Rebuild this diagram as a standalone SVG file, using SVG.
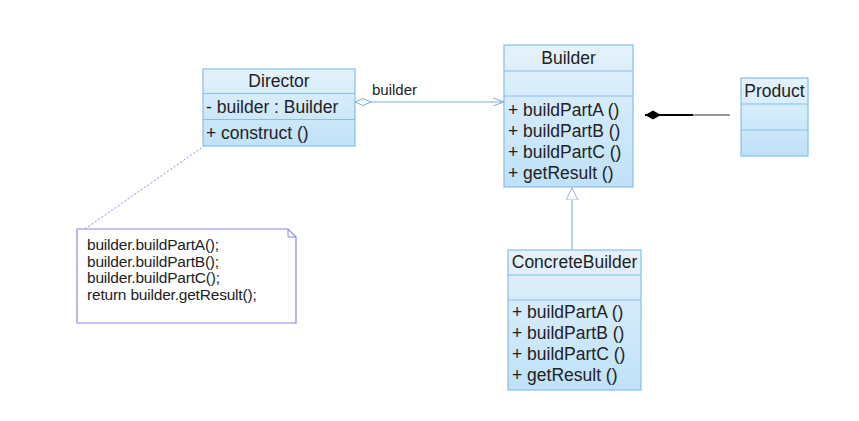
<svg xmlns="http://www.w3.org/2000/svg" width="859" height="421" viewBox="0 0 859 421">
<style>
.box{fill:url(#g);stroke:#86bfe8;stroke-width:1.2}
.sep{stroke:#86bfe8;stroke-width:1.2}
.t{font-family:"Liberation Sans",Arial,sans-serif;font-size:17.5px;fill:#222}
.c{text-anchor:middle}
.n{font-family:"Liberation Sans",Arial,sans-serif;font-size:15.5px;fill:#222;letter-spacing:-0.2px}
</style>
<defs>
<linearGradient id="g" x1="0" y1="0" x2="0" y2="1">
<stop offset="0" stop-color="#e4f2fc"/>
<stop offset="1" stop-color="#bfe1f8"/>
</linearGradient>
<marker id="open" markerWidth="12" markerHeight="10" refX="11" refY="5" orient="auto" markerUnits="userSpaceOnUse">
<path d="M0,1 L11,5 L0,9" fill="none" stroke="#7aaee0" stroke-width="1"/>
</marker>
<marker id="odiam" markerWidth="20" markerHeight="10" refX="0" refY="5" orient="auto" markerUnits="userSpaceOnUse">
<path d="M0,5 L8,1.5 L16,5 L8,8.5 Z" fill="#fff" stroke="#7aaee0" stroke-width="1"/>
</marker>
<marker id="tri" markerWidth="14" markerHeight="14" refX="12" refY="6" orient="auto" markerUnits="userSpaceOnUse">
<path d="M0,0 L12,6 L0,12 Z" fill="#fff" stroke="#9ab0e0" stroke-width="1"/>
</marker>
<marker id="fdiam" markerWidth="20" markerHeight="12" refX="0" refY="6" orient="auto" markerUnits="userSpaceOnUse">
<path d="M0,6 L8,1.5 L16,6 L8,10.5 Z" fill="#000"/>
</marker>
</defs>
<rect width="859" height="421" fill="#fff"/>

<g id="connectors">
<line x1="355" y1="102" x2="504" y2="102" stroke="#7aaee0" stroke-width="1" marker-start="url(#odiam)" marker-end="url(#open)"/>
<text class="t" x="372" y="95" style="font-size:15px">builder</text>
<line x1="572" y1="250" x2="572" y2="188" stroke="#9ab0e0" stroke-width="1.2" marker-end="url(#tri)"/>
<line x1="645" y1="115" x2="693" y2="115" stroke="#000" stroke-width="1.8" marker-start="url(#fdiam)"/>
<line x1="693" y1="115" x2="730" y2="115" stroke="#333" stroke-width="1.2"/>
<line x1="85" y1="229" x2="210" y2="142" stroke="#8a8ae0" stroke-width="1" stroke-dasharray="2,2"/>
</g>

<g id="director">
<rect class="box" x="203" y="69" width="152" height="77"/>
<line class="sep" x1="203" y1="93.5" x2="355" y2="93.5"/>
<line class="sep" x1="203" y1="119.5" x2="355" y2="119.5"/>
<text class="t c" x="279" y="87">Director</text>
<text class="t" x="206" y="113">- builder : Builder</text>
<text class="t" x="206" y="139">+ construct ()</text>
</g>

<g id="builder">
<rect class="box" x="504" y="45" width="129" height="142"/>
<line class="sep" x1="504" y1="71" x2="633" y2="71"/>
<line class="sep" x1="504" y1="96" x2="633" y2="96"/>
<text class="t c" x="568.5" y="64">Builder</text>
<text class="t" x="508" y="116">+ buildPartA ()</text>
<text class="t" x="508" y="137">+ buildPartB ()</text>
<text class="t" x="508" y="158">+ buildPartC ()</text>
<text class="t" x="508" y="179">+ getResult ()</text>
</g>

<g id="product">
<rect class="box" x="741" y="78" width="67" height="78"/>
<line class="sep" x1="741" y1="104" x2="808" y2="104"/>
<line class="sep" x1="741" y1="130" x2="808" y2="130"/>
<text class="t c" x="774.5" y="97">Product</text>
</g>

<g id="concretebuilder">
<rect class="box" x="508" y="250" width="133" height="140"/>
<line class="sep" x1="508" y1="275" x2="641" y2="275"/>
<line class="sep" x1="508" y1="300" x2="641" y2="300"/>
<text class="t c" x="574.5" y="268">ConcreteBuilder</text>
<text class="t" x="512" y="318">+ buildPartA ()</text>
<text class="t" x="512" y="339">+ buildPartB ()</text>
<text class="t" x="512" y="360">+ buildPartC ()</text>
<text class="t" x="512" y="381">+ getResult ()</text>
</g>

<g id="note">
<path d="M77,229 L288,229 L296,237 L296,323 L77,323 Z" fill="#fff" stroke="#8a8ae0" stroke-width="1.2"/>
<path d="M288,229 L288,237 L296,237" fill="none" stroke="#8a8ae0" stroke-width="1"/>
<text class="n" x="87" y="250">builder.buildPartA();</text>
<text class="n" x="87" y="266.5">builder.buildPartB();</text>
<text class="n" x="87" y="283">builder.buildPartC();</text>
<text class="n" x="87" y="299.5">return builder.getResult();</text>
</g>
</svg>
